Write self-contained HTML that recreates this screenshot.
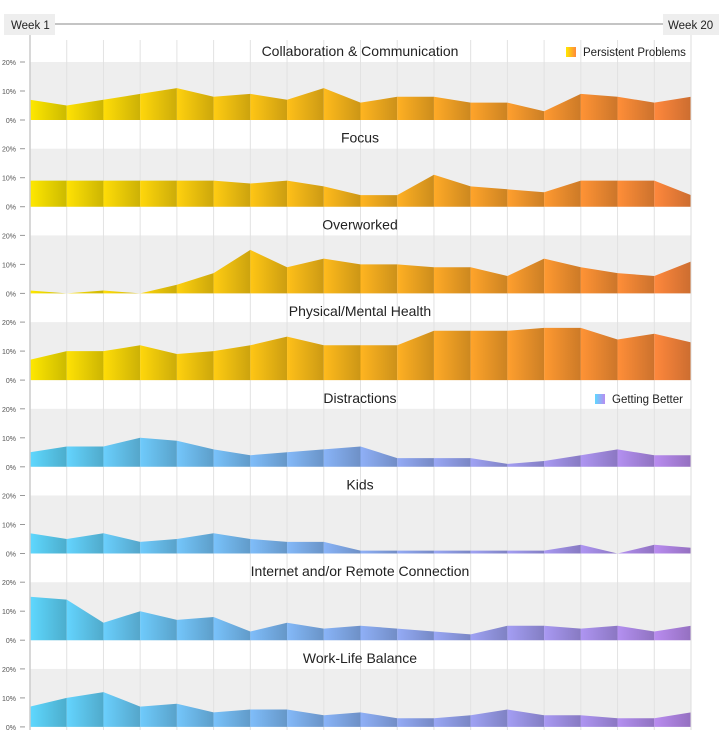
<!DOCTYPE html>
<html><head><meta charset="utf-8"><style>
body{margin:0;background:#fff;font-family:"Liberation Sans",sans-serif}
svg text{font-family:"Liberation Sans",sans-serif}
</style></head><body>
<svg id="c" width="722" height="745" xmlns="http://www.w3.org/2000/svg"></svg>
<script>
const titles=["Collaboration & Communication","Focus","Overworked","Physical/Mental Health","Distractions","Kids","Internet and/or Remote Connection","Work-Life Balance"];
const s0=[7,5,7,9,11,8,9,7,11,6,8,8,6,6,3,9,8,6,8];
const s1=[9,9,9,9,9,9,8,9,7,4,4,11,7,6,5,9,9,9,4];
const s2=[1,0,1,0,3,7,15,9,12,10,10,9,9,6,12,9,7,6,11];
const s3=[7,10,10,12,9,10,12,15,12,12,12,17,17,17,18,18,14,16,13];
const s4=[5,7,7,10,9,6,4,5,6,7,3,3,3,1,2,4,6,4,4];
const s5=[7,5,7,4,5,7,5,4,4,1,1,1,1,1,1,3,0,3,2];
const s6=[15,14,6,10,7,8,3,6,4,5,4,3,2,5,5,4,5,3,5];
const s7=[7,10,12,7,8,5,6,6,4,5,3,3,4,6,4,4,3,3,5];
const series=[s0,s1,s2,s3,s4,s5,s6,s7];
const yTicks=[0,10,20];
const yTickLabels=["0%","10%","20%"];
const NS="http://www.w3.org/2000/svg";
const svg=document.getElementById('c');
const X0=30,X1=691,TOP=62,STEP=86.7,H=58,MAXV=20;
const n=s0.length;
const x=i=>X0+(X1-X0)*i/(n-1);
const y=(p,v)=>TOP+p*STEP+H-H*v/MAXV;
function el(t,a,parent){const e=document.createElementNS(NS,t);for(const k in a)e.setAttribute(k,a[k]);(parent||svg).appendChild(e);return e;}
const defs=el('defs',{});
const warm=[[255,232,0],[255,136,60]],cool=[[95,216,255],[185,140,240]];
function lerp(a,b,t){return a.map((v,i)=>Math.round(v+(b[i]-v)*t));}
function rgb(c){return `rgb(${c[0]},${c[1]},${c[2]})`;}
function dark(c){return c.map(v=>Math.round(v*0.8));}
for(let g=0;g<2;g++){const pal=g?cool:warm;for(let i=0;i<n-1;i++){
 const lg=el('linearGradient',{id:`g${g}_${i}`,x1:0,x2:1,y1:0,y2:0},defs);
 const c=lerp(pal[0],pal[1],i/(n-2));
 el('stop',{offset:0,'stop-color':rgb(c)},lg);el('stop',{offset:1,'stop-color':rgb(dark(c))},lg);}}
for(let p=0;p<8;p++){const b=el('rect',{x:X0,y:y(p,20),width:X1-X0,height:H,fill:'#eeeeee'});
}
for(let i=0;i<n;i++){el('line',{x1:x(i),x2:x(i),y1:40,y2:730,stroke:'#e2e2e2','stroke-width':1});}
series.forEach((d,p)=>{
 const g=p<4?0:1;
 const grp=el('g',{});
 
 
 for(let i=0;i<n-1;i++){
  const poly=el('polygon',{points:`${x(i)},${y(p,0)} ${x(i)},${y(p,d[i])} ${x(i+1)},${y(p,d[i+1])} ${x(i+1)},${y(p,0)}`,fill:`url(#g${g}_${i})`},grp);
  
 }
 const t=el('text',{x:360,y:y(p,20)-6,'text-anchor':'middle','font-size':14,fill:'#222'});
 t.textContent=titles[p];
 yTicks.forEach((v,k)=>{const l=el('text',{x:16,y:y(p,v)+3,'text-anchor':'end','font-size':7,fill:'#555'});
  l.textContent=yTickLabels[k];
  el('line',{x1:20,x2:25,y1:y(p,v),y2:y(p,v),stroke:'#999'});});
});
el('line',{x1:X0,x2:X0,y1:35,y2:730,stroke:'#ccc','stroke-width':1.5});
el('line',{x1:X1,x2:X1,y1:35,y2:730,stroke:'#ddd','stroke-width':1});
el('line',{x1:55,x2:663,y1:24,y2:24,stroke:'#888'});
el('rect',{x:4,y:14,width:51,height:21,fill:'#eeeeee'});
el('rect',{x:663,y:14,width:56,height:21,fill:'#eeeeee'});
let w1=el('text',{x:11,y:29,'font-size':11.5,fill:'#222'});w1.textContent='Week 1';

let w2=el('text',{x:668,y:29,'font-size':11.5,fill:'#222'});w2.textContent='Week 20';

function legend(lx,ly,pal,label,name){
 const lg=el('linearGradient',{id:'lg'+name,x1:0,x2:1,y1:0,y2:0},defs);
 el('stop',{offset:0,'stop-color':rgb(pal[0])},lg);el('stop',{offset:1,'stop-color':rgb(pal[1])},lg);
 const r=el('rect',{x:lx,y:ly-9,width:10,height:10,fill:`url(#lg${name})`});
 
 const t=el('text',{x:lx+17,y:ly,'font-size':11.5,fill:'#222'});t.textContent=label;
 
}
legend(566,56,warm,'Persistent Problems','persistent-problems');
legend(595,403,cool,'Getting Better','getting-better');
</script>
</body></html>
